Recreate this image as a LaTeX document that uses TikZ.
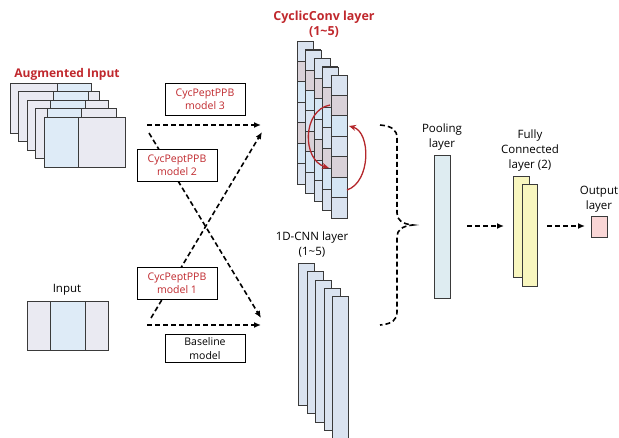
\documentclass[tikz,border=0pt]{standalone}
\usepackage{fontspec}
\setmainfont{Open Sans}
\usetikzlibrary{arrows.meta}
\definecolor{slate}{HTML}{DAE3F0}
\definecolor{mauve}{HTML}{D9D1D8}
\definecolor{cblue}{HTML}{D5E6F4}
\definecolor{fgrey}{HTML}{EAEAF2}
\definecolor{fblue}{HTML}{DEEBF7}
\definecolor{poolc}{HTML}{DEECF1}
\definecolor{fcc}{HTML}{F8F6BF}
\definecolor{outc}{HTML}{F9D6D6}
\definecolor{titred}{HTML}{C0282D}
\definecolor{arrred}{HTML}{B4272B}
\definecolor{edge}{HTML}{3A3A3A}
\begin{document}
\begin{tikzpicture}[x=1pt,y=-1pt,
  txt/.style={font=\fontsize{11.5}{15}\selectfont, align=center, inner sep=0pt},
  title/.style={font=\fontsize{12}{15}\selectfont\bfseries, text=titred, align=center, inner sep=0pt},
  modelbox/.style={draw=black, line width=0.8pt, fill=white, minimum width=80pt, minimum height=32pt,
    font=\fontsize{10.5}{13.5}\selectfont, align=center, inner sep=0pt},
  dasharrow/.style={line width=1.6pt, dash pattern=on 5pt off 3pt, -{Latex[length=7pt,width=6pt]}},
  dashline/.style={line width=1.6pt, dash pattern=on 5pt off 3pt},
  redarrow/.style={draw=arrred, line width=1.3pt, -{Stealth[length=7pt,width=6pt]}},
  layerbox/.style={draw=edge, line width=0.9pt, anchor=north west, inner sep=0pt, minimum width=16pt}
]
\useasboundingbox (0,0) rectangle (619,437);

% ---------- Augmented input ----------
\node[title] (augt) at (67,74) {Augmented Input};
\foreach \i in {0,...,4}{
  \pgfmathsetmacro\L{10+8.5*\i}
  \pgfmathsetmacro\T{83.5+8.4*\i}
  \pgfmathsetmacro\B{47-11.75*\i}
  \fill[fgrey] (\L,\T) rectangle ++(81,50);
  \fill[fblue] ({\L+\B},\T) rectangle ++(34.5,50);
  \draw[edge, line width=0.9pt] ({\L+\B},\T) -- ++(0,50);
  \draw[edge, line width=0.9pt] ({\L+\B+34.5},\T) -- ++(0,50);
  \draw[edge, line width=0.9pt] (\L,\T) rectangle ++(81,50);
}

% ---------- Input ----------
\node[txt] (inpt) at (67,290) {Input};
\fill[fgrey] (27,301) rectangle (108,350);
\fill[fblue] (50,301) rectangle (85,350);
\draw[edge, line width=0.9pt] (50,301) -- (50,350) (85,301) -- (85,350);
\draw[edge, line width=0.9pt] (27,301) rectangle (108,350);

% ---------- dashed connectors ----------
\coordinate (h3s) at (147,125); \coordinate (h3e) at (261,125);
\coordinate (h0s) at (147,325); \coordinate (h0e) at (261,325);
\coordinate (d2s) at (149,133); \coordinate (d2e) at (261,318);
\coordinate (d1s) at (151,318); \coordinate (d1e) at (262,132);
\draw[dasharrow] (h3s) -- (h3e);
\draw[dasharrow] (h0s) -- (h0e);
\draw[dasharrow] (d2s) -- (d2e);
\draw[dasharrow] (d1s) -- (d1e);

\node[modelbox, text=titred] (m3) at (205,99) {CycPeptPPB\\model 3};
\node[modelbox, text=titred] (m2) at (177,165) {CycPeptPPB\\model 2};
\node[modelbox, text=titred] (m1) at (177,283) {CycPeptPPB\\model 1};
\node[modelbox, minimum height=28pt] (base) at (205,348.5) {Baseline\\model};

% ---------- CyclicConv layers ----------
\node[title, font=\fontsize{12.5}{15}\selectfont\bfseries] (cyct) at (324,24.5) {CyclicConv layer\\(1\textasciitilde5)};
\foreach \j in {0,...,4}{
  \pgfmathsetmacro\L{297+8.4*\j}
  \pgfmathsetmacro\T{41+8.5*\j}
  \foreach \k/\c in {0/slate,1/mauve,2/cblue,3/slate,4/mauve,5/cblue,6/slate}{
    \fill[\c] (\L,{\T+\k*20.43}) rectangle ++(16,20.43);
    \draw[edge, line width=0.8pt] (\L,{\T+\k*20.43}) -- ++(16,0);
  }
  \node[layerbox, minimum height=143pt] (cyc\j) at (\L,\T) {};
}
\coordinate (ra1s) at (347,190); \coordinate (ra1e) at (349,126);
\coordinate (ra2s) at (330,105); \coordinate (ra2e) at (329,168);
\draw[redarrow] (ra1s) .. controls (371,182) and (371,132) .. (ra1e);
\draw[redarrow] (ra2s) .. controls (302,110) and (302,160) .. (ra2e);

% ---------- 1D-CNN layers ----------
\node[txt] (cnnt) at (312,245) {1D-CNN layer\\(1\textasciitilde5)};
\foreach \j in {0,...,4}{
  \pgfmathsetmacro\L{298+8.5*\j}
  \pgfmathsetmacro\T{263+8.3*\j}
  \node[layerbox, fill=slate, minimum height=142pt] (cnn\j) at (\L,\T) {};
}

% ---------- brace ----------
\coordinate (bt) at (380,125); \coordinate (bm) at (413,225); \coordinate (bb) at (380,325);
\draw[dashline] (bt) .. controls (392,126) and (397,130) .. (397,138) -- (397,213)
  .. controls (397,220) and (402,224) .. (bm)
  .. controls (402,226) and (397,230) .. (397,237) -- (397,312)
  .. controls (397,320) and (392,324) .. (bb);

% ---------- pooling ----------
\node[txt] (poolt) at (442,137.5) {Pooling\\layer};
\node[layerbox, fill=poolc, minimum height=143pt] (pool) at (434,155) {};

% ---------- fully connected ----------
\node[txt] (fct) at (530,151) {Fully\\Connected\\layer (2)};
\node[layerbox, fill=fcc, minimum height=101pt] (fc1) at (513,176) {};
\node[layerbox, fill=fcc, minimum height=102pt, minimum width=15pt] (fc2) at (522,184) {};

% ---------- output ----------
\node[txt] (outt) at (599,199.5) {Output\\layer};
\node[layerbox, fill=outc, minimum height=21pt] (out) at (591,216) {};

\coordinate (p1s) at (467,226); \coordinate (p1e) at (504,226);
\coordinate (p2s) at (547,226); \coordinate (p2e) at (585,226);
\draw[dasharrow] (p1s) -- (p1e);
\draw[dasharrow] (p2s) -- (p2e);
\end{tikzpicture}
\end{document}
